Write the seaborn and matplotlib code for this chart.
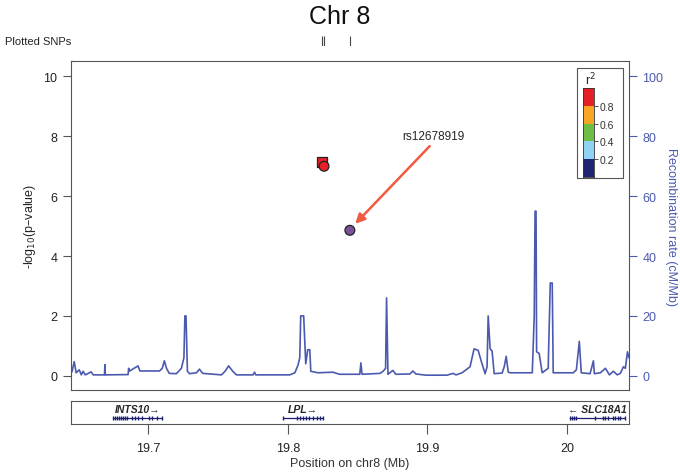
import numpy as np
import pandas as pd
import matplotlib
matplotlib.use('Agg')
import matplotlib.pyplot as plt
from matplotlib.patches import Rectangle
from matplotlib.colors import ListedColormap
import seaborn as sns

# SNPs: position (Mb), -log10 p, r2 bin, marker
snp_pos = [19.8242, 19.8259, 19.8444]
snp_logp = [7.13, 7.00, 4.86]
snp_group = ['r08', 'r08', 'ref']
snp_shape = ['square', 'circle', 'circle']
lead_snp = 'rs12678919'

# recombination rate (cM/Mb)
recomb_pos = [19.6440, 19.6454, 19.6469, 19.6483, 19.6505, 19.6520, 19.6533, 19.6548,
              19.6591, 19.6605, 19.6686, 19.6689, 19.6692, 19.6855, 19.6859, 19.6863,
              19.6926, 19.6940, 19.7080, 19.7100, 19.7115, 19.7130, 19.7150, 19.7201,
              19.7237, 19.7255, 19.7262, 19.7270, 19.7280, 19.7295, 19.7345, 19.7366,
              19.7390, 19.7524, 19.7550, 19.7575, 19.7605, 19.7632, 19.7750, 19.7761,
              19.7770, 19.8013, 19.8050, 19.8072, 19.8085, 19.8092, 19.8113, 19.8128,
              19.8142, 19.8157, 19.8164, 19.8215, 19.8322, 19.8370, 19.8515, 19.8523,
              19.8531, 19.8660, 19.8682, 19.8700, 19.8707, 19.8717, 19.8752, 19.8773,
              19.8874, 19.8896, 19.8917, 19.8990, 19.9140, 19.9183, 19.9205, 19.9248,
              19.9305, 19.9334, 19.9363, 19.9391, 19.9413, 19.9427, 19.9435, 19.9449,
              19.9463, 19.9478, 19.9535, 19.9550, 19.9564, 19.9579, 19.9593, 19.9751,
              19.9765, 19.9771, 19.9778, 19.9782, 19.9800, 19.9822, 19.9865, 19.9880,
              19.9894, 19.9901, 20.0045, 20.0067, 20.0088, 20.0102, 20.0165, 20.0189,
              20.0196, 20.0239, 20.0275, 20.0304, 20.0332, 20.0360, 20.0382, 20.0404,
              20.0418, 20.0433, 20.0444]
recomb_rate = [0.5, 1.5, 4.7, 1.0, 2.0, 0.3, 1.5, 0.3,
               1.3, 0.3, 0.3, 3.7, 0.3, 0.4, 2.5, 1.5,
               3.3, 1.6, 1.6, 2.5, 5.0, 2.5, 0.8, 0.7,
               2.5, 6.0, 20.0, 20.0, 1.5, 0.7, 1.0, 2.2,
               0.8, 0.3, 1.5, 3.3, 1.5, 0.3, 0.3, 1.2,
               0.3, 0.3, 1.0, 3.5, 6.0, 20.0, 20.0, 4.0,
               8.7, 8.7, 1.5, 1.0, 1.2, 0.5, 0.5, 4.3,
               0.5, 0.8, 1.5, 2.5, 26.0, 0.5, 1.8, 0.5,
               0.6, 1.6, 0.6, 0.2, 0.2, 0.8, 0.3, 1.0,
               3.0, 9.0, 8.5, 4.0, 0.7, 3.0, 20.0, 9.0,
               8.3, 0.7, 0.9, 3.0, 6.5, 1.2, 1.0, 1.0,
               20.0, 55.0, 55.0, 8.0, 7.5, 1.0, 2.5, 31.0,
               31.0, 1.0, 1.0, 2.0, 11.5, 1.0, 0.7, 5.0,
               0.7, 1.0, 2.5, 0.3, 1.5, 0.3, 0.8, 3.0,
               2.5, 8.0, 6.0]

# genes
gene_names = ['INTS10', 'LPL', 'SLC18A1']
gene_start = [19.6747, 19.7963, 20.0021]
gene_end = [19.7098, 19.8250, 20.0415]
gene_strand = ['+', '+', '-']
gene_exons = [
    [19.6747, 19.6761, 19.6776, 19.6790, 19.6804, 19.6819, 19.6833, 19.6847,
     19.6883, 19.6905, 19.6926, 19.6954, 19.7005, 19.7026, 19.7062, 19.7098],
    [19.7963, 19.8063, 19.8087, 19.8108, 19.8130, 19.8151, 19.8180, 19.8207,
     19.8230, 19.8250],
    [20.0021, 20.0035, 20.0050, 20.0064, 20.0200, 20.0258, 20.0272, 20.0293,
     20.0329, 20.0343, 20.0365, 20.0379, 20.0415],
]

r2_breaks = [0.0, 0.2, 0.4, 0.6, 0.8, 1.0]
r2_colors = ['#1f2570', '#8fd3f4', '#6cbe45', '#f6a623', '#e41f26']
x_ticks = [19.7, 19.8, 19.9, 20.0]
x_labels = ['19.7', '19.8', '19.9', '20']

sns.set_style('ticks')
plt.rcParams['font.family'] = ['Liberation Sans', 'DejaVu Sans']
plt.rcParams['axes.edgecolor'] = '#555555'
plt.rcParams['axes.linewidth'] = 0.8

blue = '#4b5aae'
xlim = (19.6444, 20.0444)

fig = plt.figure(figsize=(6.8, 4.77), dpi=100)
ax = fig.add_axes([0.104, 0.180, 0.821, 0.689])
ax2 = ax.twinx()
ax.set_zorder(ax2.get_zorder() + 1)
ax.patch.set_visible(False)

# recombination line
sns.lineplot(x=recomb_pos, y=recomb_rate, ax=ax2, color=blue, lw=1.2)
ax2.set_ylim(-4.8, 105)
ax2.set_yticks([0, 20, 40, 60, 80, 100])
ax2.tick_params(axis='y', colors=blue, labelsize=9, length=6, width=0.8)
ax2.set_ylabel('Recombination rate (cM/Mb)', color=blue, fontsize=9,
               rotation=270, va='center', ha='center')
ax2.yaxis.set_label_coords(1.075, 0.5)
for s in ax2.spines.values():
    s.set_visible(False)

# SNPs
snps = pd.DataFrame({'pos': snp_pos, 'logp': snp_logp,
                     'group': snp_group, 'shape': snp_shape})
sns.scatterplot(data=snps, x='pos', y='logp', hue='group', style='shape',
                palette={'r08': '#e8202a', 'ref': '#7b519c'},
                markers={'square': 's', 'circle': 'o'}, s=50,
                edgecolor='#222222', linewidth=0.9, legend=False, ax=ax)
ax.set_xlim(xlim)
ax2.set_xlim(xlim)
ax.set_ylim(-0.48, 10.5)
ax.set_yticks([0, 2, 4, 6, 8, 10])
ax.set_xticks([])
ax.set_xlabel('')
ax.set_ylabel('-log$_{10}$(p\u2013value)', fontsize=9, labelpad=4)
ax.tick_params(axis='y', labelsize=9, length=6, width=0.8, colors='#555555',
               labelcolor='#222222')
for s in ax.spines.values():
    s.set_visible(True)

# annotation for lead SNP
ax.annotate('', xy=(19.8469, 5.01), xytext=(19.9030, 7.74),
            arrowprops=dict(arrowstyle='-|>', color='#f15a40', lw=1.8,
                            mutation_scale=14))
ax.text(19.9040, 8.01, lead_snp, fontsize=8.5, ha='center', va='center')

# r2 legend
box = Rectangle((0.906, 0.645), 0.0835, 0.334, transform=ax.transAxes,
                fill=False, edgecolor='#555555', lw=0.8)
ax.add_patch(box)
cax = ax.inset_axes([0.917, 0.649, 0.0202, 0.269])
cax.pcolormesh([0, 1], r2_breaks, np.array([[0], [1], [2], [3], [4]]),
               cmap=ListedColormap(r2_colors), vmin=0, vmax=4)
cax.set_xticks([])
cax.set_yticks([0.2, 0.4, 0.6, 0.8])
cax.set_yticklabels(['0.2', '0.4', '0.6', '0.8'])
cax.yaxis.tick_right()
cax.tick_params(axis='y', labelsize=7.5, length=3, width=0.6, pad=1,
                colors='#333333')
for s in cax.spines.values():
    s.set_color('#333333')
    s.set_linewidth(0.6)
ax.text(0.931, 0.948, 'r$^2$', transform=ax.transAxes, ha='center',
        va='center', fontsize=9)

# plotted SNP strip
sax = fig.add_axes([0.104, 0.901, 0.821, 0.022])
sax.vlines(snp_pos, 0, 1, color='#444444', lw=0.8)
sax.set_xlim(xlim)
sax.set_ylim(0, 1)
sax.axis('off')
fig.text(0.007, 0.912, 'Plotted SNPs', fontsize=8, va='center', color='#222222')

# gene track
gax = fig.add_axes([0.104, 0.109, 0.821, 0.049])
gene_col = '#1a1f6e'
for name, st, en, strand, ex in zip(gene_names, gene_start, gene_end,
                                    gene_strand, gene_exons):
    gax.hlines(0.26, st, en, color=gene_col, lw=0.9)
    gax.vlines(ex, 0.18, 0.34, color=gene_col, lw=1.0)
    label = name + '\u2192' if strand == '+' else '\u2190 ' + name
    gax.text((st + en) / 2, 0.64, label, ha='center', va='center',
             fontsize=7.5, style='italic', fontweight='bold')
gax.set_xlim(xlim)
gax.set_ylim(0, 1)
gax.set_yticks([])
gax.set_xticks(x_ticks)
gax.set_xticklabels(x_labels)
gax.tick_params(axis='x', labelsize=9, length=7, width=0.8, pad=6,
                colors='#555555', labelcolor='#222222')
gax.set_xlabel('Position on chr8 (Mb)', fontsize=9, labelpad=2, color='#333333')
for s in gax.spines.values():
    s.set_visible(True)

fig.suptitle('Chr 8', fontsize=18, y=0.99, color='#111111')

fig.savefig('out.png', dpi=100)
